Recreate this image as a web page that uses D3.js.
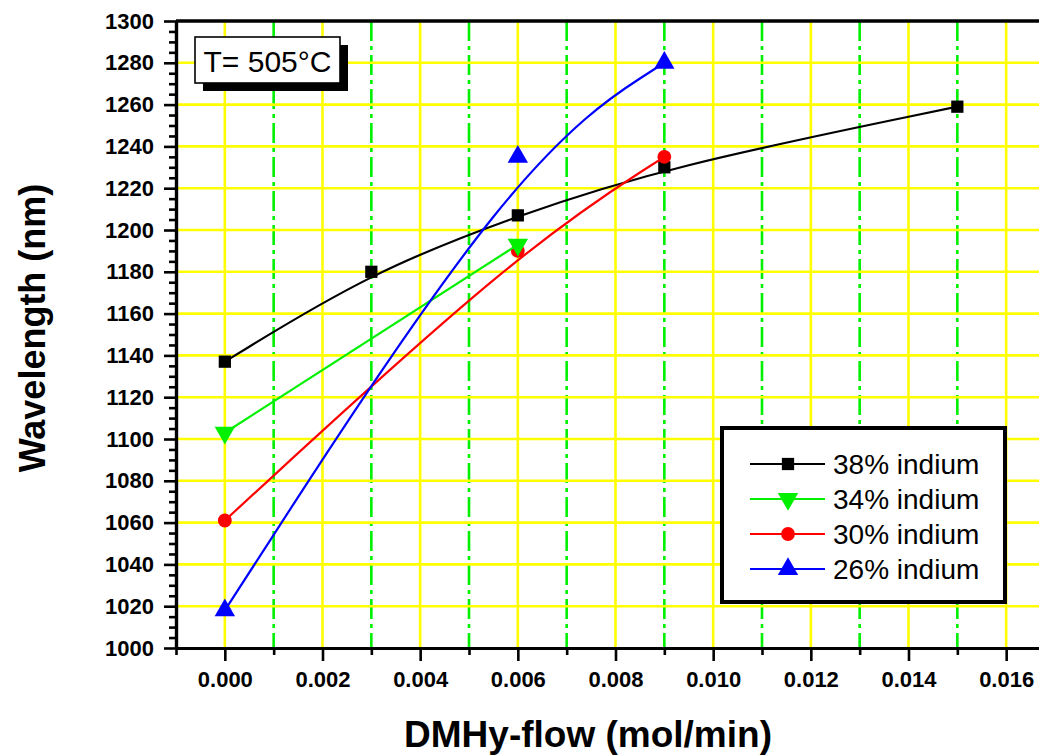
<!DOCTYPE html>
<html><head><meta charset="utf-8">
<script src="https://cdn.jsdelivr.net/npm/d3@7"></script>
<style>body{margin:0;background:#fff;overflow:hidden}</style>
</head><body>
<svg id="chart" width="1039" height="756"></svg>
<script>
// ---- data ----
const flow38 = [0, 0.003, 0.006, 0.009, 0.015];
const wl38   = [1137, 1180, 1207, 1230, 1259];
const flow34 = [0, 0.006];
const wl34   = [1103, 1193];
const flow30 = [0, 0.006, 0.009];
const wl30   = [1061, 1190, 1235];
const flow26 = [0, 0.006, 0.009];
const wl26   = [1018, 1235, 1280];
const seriesNames  = ["38% indium", "34% indium", "30% indium", "26% indium"];
const xTickValues  = [0, 0.002, 0.004, 0.006, 0.008, 0.010, 0.012, 0.014, 0.016];
const xMinorValues = [-0.001, 0.001, 0.003, 0.005, 0.007, 0.009, 0.011, 0.013, 0.015];
const yTickValues  = [1000, 1020, 1040, 1060, 1080, 1100, 1120, 1140, 1160, 1180, 1200, 1220, 1240, 1260, 1280, 1300];
const annotation   = "T= 505°C";
const xTitle = "DMHy-flow (mol/min)";
const yTitle = "Wavelength (nm)";

// ---- styles ----
const FONT = "'Liberation Sans', Arial, sans-serif";
const colors = ["#000000", "#00f000", "#ff0000", "#0000ff"];
const symbols = ["square", "down", "circle", "up"];

const svg = d3.select("#chart");
const x = d3.scaleLinear().domain([-0.001, 0.017]).range([176, 1055]);
const y = d3.scaleLinear().domain([1000, 1300]).range([648, 21]);

const yMinor = d3.range(1000, 1301, 5).filter(v => v % 20 !== 0);

// grid
const grid = svg.append("g");
grid.selectAll(".vy").data(xTickValues).join("line")
  .attr("x1", d => x(d)).attr("x2", d => x(d))
  .attr("y1", y(1000)).attr("y2", y(1300))
  .attr("stroke", "#ffff00").attr("stroke-width", 2.6);
grid.selectAll(".vg").data(xMinorValues.filter(d => d > -0.001)).join("line")
  .attr("x1", d => x(d)).attr("x2", d => x(d))
  .attr("y1", y(1300)).attr("y2", y(1000))
  .attr("stroke", "#00f000").attr("stroke-width", 2.6)
  .attr("stroke-dasharray", "20,5,4,5");
grid.selectAll(".hy").data(yTickValues.filter(d => d > 1000 && d < 1300)).join("line")
  .attr("x1", x(-0.001)).attr("x2", 1039)
  .attr("y1", d => y(d)).attr("y2", d => y(d))
  .attr("stroke", "#ffff00").attr("stroke-width", 2.6);

// axes
const yAxis = svg.append("g").attr("transform", `translate(${x(-0.001)},0)`)
  .call(d3.axisLeft(y).tickValues(yTickValues).tickSize(12).tickSizeOuter(0).tickPadding(10).tickFormat(d3.format("d")));
const yAxisMinor = svg.append("g").attr("transform", `translate(${x(-0.001)},0)`)
  .call(d3.axisLeft(y).tickValues(yMinor).tickSize(7).tickSizeOuter(0).tickFormat(""));
const xAxis = svg.append("g").attr("transform", `translate(0,${y(1000)})`)
  .call(d3.axisBottom(x).tickValues(xTickValues).tickSize(13).tickSizeOuter(0).tickPadding(10).tickFormat(d3.format(".3f")));
const xAxisMinor = svg.append("g").attr("transform", `translate(0,${y(1000)})`)
  .call(d3.axisBottom(x).tickValues(xMinorValues).tickSize(7).tickSizeOuter(0).tickFormat(""));
[yAxis, yAxisMinor, xAxis, xAxisMinor].forEach(g => {
  g.select(".domain").attr("stroke", "#000").attr("stroke-width", 3.2);
  g.selectAll(".tick line").attr("stroke", "#000").attr("stroke-width", 2.6);
  g.selectAll("text").attr("font-family", FONT).attr("font-size", 22)
    .attr("font-weight", "bold").attr("fill", "#000");
});
// top frame
svg.append("line").attr("x1", x(-0.001)).attr("x2", 1039)
  .attr("y1", y(1300)).attr("y2", y(1300))
  .attr("stroke", "#000").attr("stroke-width", 3.6);

// series
const series = [
  {name: seriesNames[0], xs: flow38, ys: wl38},
  {name: seriesNames[1], xs: flow34, ys: wl34},
  {name: seriesNames[2], xs: flow30, ys: wl30},
  {name: seriesNames[3], xs: flow26, ys: wl26}
];
const drawOrder = [0, 2, 1, 3];
const line = d3.line().x(d => x(d[0])).y(d => y(d[1])).curve(d3.curveBasis);

function symbolPath(kind) {
  if (kind === "square") return d3.symbol(d3.symbolSquare, 150)();
  if (kind === "circle") return d3.symbol(d3.symbolCircle, 150)();
  return d3.symbol(d3.symbolTriangle, 180)();
}
function addMarker(g, kind, cx, cy, color) {
  g.append("path").attr("d", symbolPath(kind))
    .attr("transform", `translate(${cx},${cy})` + (kind === "down" ? " rotate(180)" : ""))
    .attr("fill", color).attr("stroke", "none");
}

const plot = svg.append("g");
drawOrder.forEach(i => {
  const s = series[i];
  const pts = s.xs.map((v, k) => [v, s.ys[k]]);
  plot.append("path").datum(pts).attr("d", line)
    .attr("fill", "none").attr("stroke", colors[i]).attr("stroke-width", 2.2);
  pts.forEach(p => addMarker(plot, symbols[i], x(p[0]), y(p[1]), colors[i]));
});

// annotation box with shadow
const ann = svg.append("g");
ann.append("rect").attr("x", 203).attr("y", 45).attr("width", 145).attr("height", 46).attr("fill", "#000");
ann.append("rect").attr("x", 195).attr("y", 37).attr("width", 145).attr("height", 46)
  .attr("fill", "#fff").attr("stroke", "#000").attr("stroke-width", 1.6);
ann.append("text").attr("x", 267.5).attr("y", 72).attr("text-anchor", "middle")
  .attr("font-family", FONT).attr("font-size", 30).attr("fill", "#000").text(annotation);

// legend
const leg = svg.append("g");
leg.append("rect").attr("x", 722).attr("y", 428).attr("width", 283).attr("height", 174)
  .attr("fill", "#fff").attr("stroke", "#000").attr("stroke-width", 4);
series.forEach((s, i) => {
  const ry = 464 + i * 35;
  leg.append("line").attr("x1", 750).attr("x2", 825).attr("y1", ry).attr("y2", ry)
    .attr("stroke", colors[i]).attr("stroke-width", 2.2);
  addMarker(leg, symbols[i], 788, ry, colors[i]);
  leg.append("text").attr("x", 833).attr("y", ry + 10)
    .attr("font-family", FONT).attr("font-size", 28).attr("fill", "#000").text(s.name);
});

// axis titles
svg.append("text").attr("x", 588).attr("y", 747).attr("text-anchor", "middle")
  .attr("font-family", FONT).attr("font-size", 37).attr("font-weight", "bold").text(xTitle);
svg.append("text").attr("transform", "translate(45,328) rotate(-90)").attr("text-anchor", "middle")
  .attr("font-family", FONT).attr("font-size", 36).attr("font-weight", "bold").text(yTitle);
</script>
</body></html>
